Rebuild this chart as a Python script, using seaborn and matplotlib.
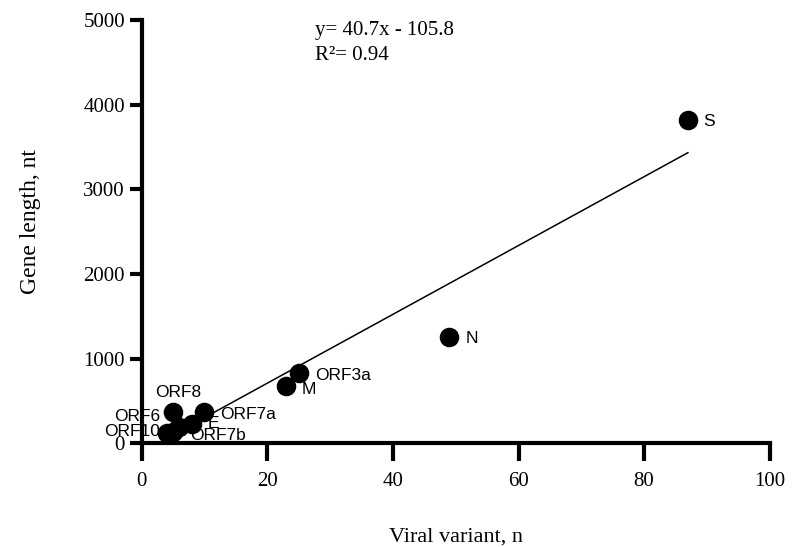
import numpy as np
import pandas as pd
import seaborn as sns
import matplotlib.pyplot as plt

genes = ['S', 'N', 'ORF3a', 'M', 'ORF8', 'ORF7a', 'ORF6', 'E', 'ORF7b', 'ORF10']
variants = [87, 49, 25, 23, 5, 10, 6, 8, 5, 4]
gene_length = [3822, 1260, 828, 669, 366, 366, 186, 228, 132, 117]
slope = 40.7
intercept = -105.8
r2 = 0.94

# label offsets in points (dx, dy, ha)
label_pos = {
    'S': (11, -1.5, 'left'), 'N': (11.5, -1.5, 'left'), 'ORF3a': (12, -1.5, 'left'),
    'M': (11, -2.5, 'left'), 'ORF8': (3.5, 14, 'center'), 'ORF7a': (11.5, -2, 'left'),
    'ORF6': (-14, 8, 'right'), 'E': (11.5, 0, 'left'), 'ORF7b': (12, -2.5, 'left'),
    'ORF10': (-5, 1.5, 'right'),
}


def main():
    df = pd.DataFrame({'gene': genes, 'x': variants, 'y': gene_length})
    sns.set_style('ticks', {'axes.edgecolor': 'black', 'xtick.color': 'black',
                            'ytick.color': 'black', 'text.color': 'black',
                            'axes.labelcolor': 'black'})
    plt.rcParams['font.family'] = ['Liberation Serif', 'DejaVu Serif']

    fig, ax = plt.subplots(figsize=(7.96, 5.47), dpi=100)
    fig.subplots_adjust(left=0.178, right=0.967, top=0.963, bottom=0.19)

    xs = np.array([df['x'].min(), df['x'].max()])
    fit = pd.DataFrame({'x': xs, 'y': slope * xs + intercept})
    sns.lineplot(data=fit, x='x', y='y', color='black', lw=1.1, ax=ax)
    sns.scatterplot(data=df, x='x', y='y', s=170, color='black', edgecolor='black',
                    ax=ax, clip_on=False, zorder=3)

    for _, row in df.iterrows():
        dx, dy, ha = label_pos[row['gene']]
        ax.annotate(row['gene'], (row['x'], row['y']), xytext=(dx, dy),
                    textcoords='offset points', ha=ha, va='center',
                    fontsize=12.5, family='Liberation Sans')

    ax.text(0.2755, 0.976, 'y= %.1fx - %.1f' % (slope, -intercept),
            transform=ax.transAxes, fontsize=15, va='center')
    ax.text(0.2755, 0.917, 'R²= %.2f' % r2, transform=ax.transAxes,
            fontsize=15, va='center')

    ax.set_xlim(0, 100)
    ax.set_ylim(0, 5000)
    ax.set_xticks([0, 20, 40, 60, 80, 100])
    ax.set_yticks([0, 1000, 2000, 3000, 4000, 5000])
    ax.tick_params(axis='x', width=3, length=13, pad=8, labelsize=15)
    ax.tick_params(axis='y', width=3, length=9, pad=3, labelsize=15)
    for s in ['left', 'bottom']:
        ax.spines[s].set_linewidth(3)
    sns.despine(ax=ax)
    ax.set_xlabel('Viral variant, n', fontsize=16)
    ax.set_ylabel('Gene length, nt', fontsize=17)
    ax.xaxis.set_label_coords(0.5, -0.2)
    ax.yaxis.set_label_coords(-0.16, 0.525)

    fig.savefig('out.png', dpi=100)


if __name__ == '__main__':
    main()
